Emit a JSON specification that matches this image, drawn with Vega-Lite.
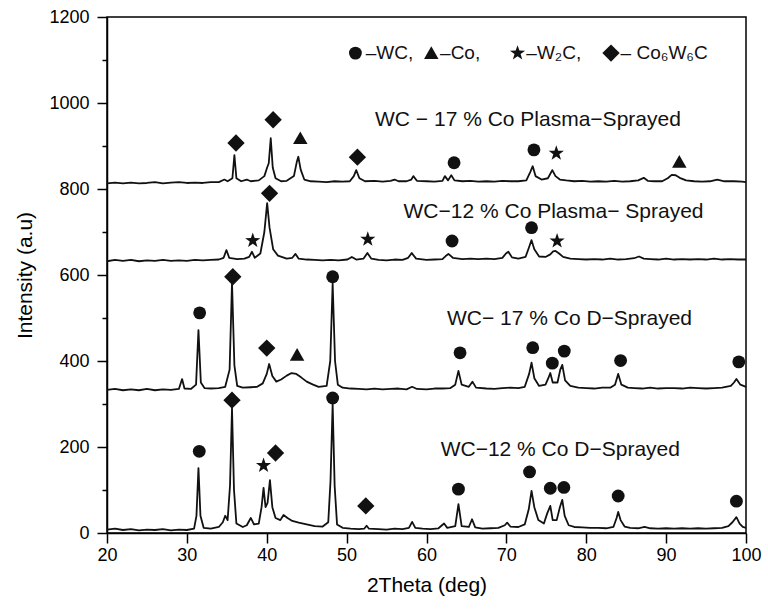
{
  "$schema": "https://vega.github.io/schema/vega-lite/v6.json",
  "width": 639,
  "height": 516,
  "autosize": {"type": "none"},
  "padding": {"left": 107, "top": 17, "right": 22, "bottom": 76},
  "config": {"view": {"stroke": "#000", "strokeWidth": 1.5}, "font": "Liberation Sans"},
  "datasets": {
    "lines": [
      {"s":"a","x":20,"y":8},{"s":"a","x":21,"y":10},{"s":"a","x":22,"y":7},{"s":"a","x":23,"y":9},{"s":"a","x":24,"y":6},{"s":"a","x":25,"y":8},{"s":"a","x":26,"y":7},{"s":"a","x":27,"y":9},{"s":"a","x":28,"y":6},{"s":"a","x":29,"y":8},{"s":"a","x":30,"y":7},{"s":"a","x":30.9,"y":10},{"s":"a","x":31.2,"y":40},{"s":"a","x":31.45,"y":151},{"s":"a","x":31.7,"y":40},{"s":"a","x":32.1,"y":12},{"s":"a","x":33,"y":10},{"s":"a","x":34,"y":14},{"s":"a","x":34.5,"y":25},{"s":"a","x":34.8,"y":40},{"s":"a","x":35.1,"y":30},{"s":"a","x":35.4,"y":110},{"s":"a","x":35.65,"y":290},{"s":"a","x":35.9,"y":100},{"s":"a","x":36.2,"y":22},{"s":"a","x":37,"y":14},{"s":"a","x":37.5,"y":18},{"s":"a","x":38,"y":35},{"s":"a","x":38.4,"y":20},{"s":"a","x":39,"y":22},{"s":"a","x":39.35,"y":60},{"s":"a","x":39.6,"y":105},{"s":"a","x":39.85,"y":60},{"s":"a","x":40.1,"y":70},{"s":"a","x":40.4,"y":123},{"s":"a","x":40.7,"y":60},{"s":"a","x":41.1,"y":35},{"s":"a","x":41.7,"y":30},{"s":"a","x":42.1,"y":42},{"s":"a","x":42.6,"y":35},{"s":"a","x":43.2,"y":28},{"s":"a","x":44,"y":24},{"s":"a","x":45,"y":20},{"s":"a","x":46,"y":16},{"s":"a","x":47,"y":15},{"s":"a","x":47.7,"y":25},{"s":"a","x":47.98,"y":120},{"s":"a","x":48.25,"y":300},{"s":"a","x":48.5,"y":110},{"s":"a","x":48.8,"y":20},{"s":"a","x":49.5,"y":12},{"s":"a","x":50.5,"y":10},{"s":"a","x":51.5,"y":9},{"s":"a","x":52.2,"y":10},{"s":"a","x":52.5,"y":17},{"s":"a","x":52.8,"y":10},{"s":"a","x":54,"y":9},{"s":"a","x":55,"y":8},{"s":"a","x":56,"y":10},{"s":"a","x":57,"y":9},{"s":"a","x":57.8,"y":12},{"s":"a","x":58.2,"y":26},{"s":"a","x":58.6,"y":12},{"s":"a","x":59.5,"y":10},{"s":"a","x":60.5,"y":9},{"s":"a","x":61.5,"y":11},{"s":"a","x":62.2,"y":22},{"s":"a","x":62.6,"y":12},{"s":"a","x":63.6,"y":16},{"s":"a","x":64.0,"y":67},{"s":"a","x":64.4,"y":16},{"s":"a","x":65.3,"y":14},{"s":"a","x":65.7,"y":32},{"s":"a","x":66.1,"y":13},{"s":"a","x":67,"y":10},{"s":"a","x":68,"y":11},{"s":"a","x":69,"y":12},{"s":"a","x":69.8,"y":18},{"s":"a","x":70.1,"y":24},{"s":"a","x":70.5,"y":15},{"s":"a","x":71.5,"y":14},{"s":"a","x":72.3,"y":20},{"s":"a","x":72.8,"y":55},{"s":"a","x":73.15,"y":98},{"s":"a","x":73.5,"y":60},{"s":"a","x":74,"y":30},{"s":"a","x":74.7,"y":22},{"s":"a","x":75.1,"y":45},{"s":"a","x":75.5,"y":63},{"s":"a","x":75.8,"y":30},{"s":"a","x":76.3,"y":30},{"s":"a","x":76.7,"y":60},{"s":"a","x":77.0,"y":77},{"s":"a","x":77.3,"y":40},{"s":"a","x":77.8,"y":18},{"s":"a","x":78.5,"y":14},{"s":"a","x":79.5,"y":13},{"s":"a","x":80.5,"y":12},{"s":"a","x":81.5,"y":12},{"s":"a","x":82.5,"y":11},{"s":"a","x":83.4,"y":14},{"s":"a","x":83.8,"y":35},{"s":"a","x":84.0,"y":49},{"s":"a","x":84.3,"y":30},{"s":"a","x":84.8,"y":15},{"s":"a","x":85.5,"y":12},{"s":"a","x":86.5,"y":11},{"s":"a","x":87.3,"y":14},{"s":"a","x":88,"y":11},{"s":"a","x":89,"y":10},{"s":"a","x":90,"y":11},{"s":"a","x":91,"y":10},{"s":"a","x":92,"y":11},{"s":"a","x":93,"y":10},{"s":"a","x":94,"y":11},{"s":"a","x":95,"y":10},{"s":"a","x":96,"y":11},{"s":"a","x":97,"y":12},{"s":"a","x":97.8,"y":16},{"s":"a","x":98.3,"y":25},{"s":"a","x":98.8,"y":37},{"s":"a","x":99.2,"y":22},{"s":"a","x":99.6,"y":14},{"s":"a","x":100,"y":12},

      {"s":"b","x":20,"y":333},{"s":"b","x":21,"y":335},{"s":"b","x":22,"y":332},{"s":"b","x":23,"y":334},{"s":"b","x":24,"y":332},{"s":"b","x":25,"y":335},{"s":"b","x":26,"y":332},{"s":"b","x":27,"y":334},{"s":"b","x":28,"y":333},{"s":"b","x":29,"y":335},{"s":"b","x":29.4,"y":358},{"s":"b","x":29.7,"y":336},{"s":"b","x":30.5,"y":335},{"s":"b","x":31.15,"y":345},{"s":"b","x":31.45,"y":472},{"s":"b","x":31.75,"y":350},{"s":"b","x":32.2,"y":337},{"s":"b","x":33,"y":336},{"s":"b","x":34,"y":337},{"s":"b","x":34.8,"y":340},{"s":"b","x":35.35,"y":380},{"s":"b","x":35.65,"y":582},{"s":"b","x":35.95,"y":390},{"s":"b","x":36.3,"y":342},{"s":"b","x":37,"y":338},{"s":"b","x":38,"y":339},{"s":"b","x":38.8,"y":340},{"s":"b","x":39.5,"y":348},{"s":"b","x":40.0,"y":370},{"s":"b","x":40.3,"y":393},{"s":"b","x":40.7,"y":365},{"s":"b","x":41.2,"y":352},{"s":"b","x":41.8,"y":357},{"s":"b","x":42.5,"y":366},{"s":"b","x":43.1,"y":372},{"s":"b","x":43.7,"y":370},{"s":"b","x":44.3,"y":362},{"s":"b","x":45,"y":352},{"s":"b","x":45.8,"y":345},{"s":"b","x":46.5,"y":340},{"s":"b","x":47.5,"y":342},{"s":"b","x":47.95,"y":400},{"s":"b","x":48.25,"y":581},{"s":"b","x":48.55,"y":400},{"s":"b","x":48.9,"y":345},{"s":"b","x":49.5,"y":338},{"s":"b","x":50.5,"y":336},{"s":"b","x":51.5,"y":335},{"s":"b","x":52.5,"y":334},{"s":"b","x":53.5,"y":336},{"s":"b","x":54.5,"y":334},{"s":"b","x":55.5,"y":335},{"s":"b","x":56.5,"y":336},{"s":"b","x":57.5,"y":334},{"s":"b","x":58.2,"y":340},{"s":"b","x":58.8,"y":335},{"s":"b","x":60,"y":334},{"s":"b","x":61,"y":336},{"s":"b","x":62,"y":336},{"s":"b","x":63,"y":337},{"s":"b","x":63.6,"y":345},{"s":"b","x":64.0,"y":377},{"s":"b","x":64.4,"y":345},{"s":"b","x":65.3,"y":340},{"s":"b","x":65.75,"y":352},{"s":"b","x":66.2,"y":338},{"s":"b","x":67.5,"y":336},{"s":"b","x":68.5,"y":335},{"s":"b","x":69.5,"y":337},{"s":"b","x":70.5,"y":338},{"s":"b","x":71.5,"y":337},{"s":"b","x":72.3,"y":340},{"s":"b","x":72.85,"y":370},{"s":"b","x":73.15,"y":396},{"s":"b","x":73.5,"y":360},{"s":"b","x":74.1,"y":342},{"s":"b","x":74.9,"y":345},{"s":"b","x":75.25,"y":360},{"s":"b","x":75.5,"y":372},{"s":"b","x":75.8,"y":350},{"s":"b","x":76.4,"y":350},{"s":"b","x":76.75,"y":380},{"s":"b","x":77.0,"y":391},{"s":"b","x":77.35,"y":355},{"s":"b","x":78,"y":342},{"s":"b","x":79,"y":338},{"s":"b","x":80,"y":337},{"s":"b","x":81,"y":336},{"s":"b","x":82,"y":338},{"s":"b","x":83,"y":338},{"s":"b","x":83.6,"y":345},{"s":"b","x":84.0,"y":370},{"s":"b","x":84.4,"y":345},{"s":"b","x":85.2,"y":338},{"s":"b","x":86,"y":337},{"s":"b","x":87,"y":336},{"s":"b","x":88,"y":338},{"s":"b","x":89,"y":336},{"s":"b","x":90,"y":337},{"s":"b","x":91,"y":337},{"s":"b","x":92,"y":336},{"s":"b","x":93,"y":338},{"s":"b","x":94,"y":337},{"s":"b","x":95,"y":336},{"s":"b","x":96,"y":337},{"s":"b","x":97,"y":338},{"s":"b","x":98.1,"y":342},{"s":"b","x":98.5,"y":350},{"s":"b","x":98.8,"y":358},{"s":"b","x":99.3,"y":345},{"s":"b","x":100,"y":340},

      {"s":"c","x":20,"y":632},{"s":"c","x":21,"y":635},{"s":"c","x":22,"y":633},{"s":"c","x":23,"y":635},{"s":"c","x":24,"y":632},{"s":"c","x":25,"y":634},{"s":"c","x":26,"y":633},{"s":"c","x":27,"y":635},{"s":"c","x":28,"y":633},{"s":"c","x":29,"y":634},{"s":"c","x":30,"y":633},{"s":"c","x":31,"y":635},{"s":"c","x":32,"y":634},{"s":"c","x":33,"y":635},{"s":"c","x":34,"y":636},{"s":"c","x":34.6,"y":640},{"s":"c","x":34.95,"y":658},{"s":"c","x":35.3,"y":640},{"s":"c","x":36.3,"y":637},{"s":"c","x":37.2,"y":638},{"s":"c","x":37.8,"y":642},{"s":"c","x":38.15,"y":654},{"s":"c","x":38.5,"y":640},{"s":"c","x":39.2,"y":650},{"s":"c","x":39.7,"y":700},{"s":"c","x":40.05,"y":767},{"s":"c","x":40.35,"y":710},{"s":"c","x":40.8,"y":660},{"s":"c","x":41.4,"y":645},{"s":"c","x":42.5,"y":638},{"s":"c","x":43.2,"y":640},{"s":"c","x":43.6,"y":649},{"s":"c","x":44,"y":638},{"s":"c","x":45,"y":636},{"s":"c","x":46,"y":635},{"s":"c","x":47,"y":634},{"s":"c","x":48,"y":635},{"s":"c","x":49,"y":634},{"s":"c","x":50.1,"y":636},{"s":"c","x":50.65,"y":642},{"s":"c","x":51.2,"y":636},{"s":"c","x":52.1,"y":638},{"s":"c","x":52.6,"y":651},{"s":"c","x":53.1,"y":638},{"s":"c","x":54,"y":635},{"s":"c","x":55,"y":634},{"s":"c","x":56,"y":636},{"s":"c","x":57,"y":635},{"s":"c","x":57.7,"y":640},{"s":"c","x":58.15,"y":651},{"s":"c","x":58.7,"y":638},{"s":"c","x":60,"y":635},{"s":"c","x":61,"y":636},{"s":"c","x":62,"y":637},{"s":"c","x":62.4,"y":644},{"s":"c","x":62.75,"y":649},{"s":"c","x":63.3,"y":640},{"s":"c","x":64.5,"y":637},{"s":"c","x":65.5,"y":638},{"s":"c","x":66.5,"y":637},{"s":"c","x":67.5,"y":638},{"s":"c","x":68.5,"y":637},{"s":"c","x":69.5,"y":640},{"s":"c","x":69.95,"y":650},{"s":"c","x":70.25,"y":654},{"s":"c","x":70.7,"y":641},{"s":"c","x":71.5,"y":638},{"s":"c","x":72.4,"y":642},{"s":"c","x":72.85,"y":665},{"s":"c","x":73.15,"y":681},{"s":"c","x":73.5,"y":660},{"s":"c","x":74.1,"y":643},{"s":"c","x":74.9,"y":642},{"s":"c","x":75.5,"y":648},{"s":"c","x":75.85,"y":655},{"s":"c","x":76.15,"y":656},{"s":"c","x":76.6,"y":650},{"s":"c","x":77.1,"y":642},{"s":"c","x":78,"y":638},{"s":"c","x":79,"y":637},{"s":"c","x":80,"y":636},{"s":"c","x":81,"y":637},{"s":"c","x":82,"y":636},{"s":"c","x":83,"y":638},{"s":"c","x":84,"y":636},{"s":"c","x":85,"y":637},{"s":"c","x":86,"y":639},{"s":"c","x":86.6,"y":643},{"s":"c","x":87.2,"y":638},{"s":"c","x":88,"y":637},{"s":"c","x":89,"y":636},{"s":"c","x":90,"y":638},{"s":"c","x":91,"y":636},{"s":"c","x":92,"y":637},{"s":"c","x":93,"y":636},{"s":"c","x":94,"y":637},{"s":"c","x":95,"y":636},{"s":"c","x":96,"y":638},{"s":"c","x":97,"y":636},{"s":"c","x":98,"y":637},{"s":"c","x":99,"y":636},{"s":"c","x":100,"y":636},

      {"s":"d","x":20,"y":813},{"s":"d","x":21,"y":815},{"s":"d","x":22,"y":813},{"s":"d","x":23,"y":815},{"s":"d","x":24,"y":813},{"s":"d","x":25,"y":814},{"s":"d","x":26,"y":816},{"s":"d","x":27,"y":813},{"s":"d","x":28,"y":815},{"s":"d","x":29,"y":816},{"s":"d","x":30,"y":814},{"s":"d","x":31,"y":815},{"s":"d","x":32,"y":814},{"s":"d","x":33,"y":816},{"s":"d","x":34,"y":816},{"s":"d","x":34.7,"y":822},{"s":"d","x":35.1,"y":818},{"s":"d","x":35.7,"y":825},{"s":"d","x":35.95,"y":879},{"s":"d","x":36.2,"y":825},{"s":"d","x":36.8,"y":818},{"s":"d","x":37.5,"y":822},{"s":"d","x":38,"y":818},{"s":"d","x":39,"y":820},{"s":"d","x":39.7,"y":830},{"s":"d","x":40.05,"y":850},{"s":"d","x":40.25,"y":860},{"s":"d","x":40.5,"y":918},{"s":"d","x":40.75,"y":850},{"s":"d","x":41.1,"y":825},{"s":"d","x":41.8,"y":818},{"s":"d","x":42.5,"y":819},{"s":"d","x":43.4,"y":830},{"s":"d","x":43.75,"y":862},{"s":"d","x":43.95,"y":875},{"s":"d","x":44.25,"y":845},{"s":"d","x":44.7,"y":822},{"s":"d","x":45.5,"y":818},{"s":"d","x":46.5,"y":817},{"s":"d","x":47.5,"y":816},{"s":"d","x":48.5,"y":818},{"s":"d","x":49.5,"y":817},{"s":"d","x":50.4,"y":818},{"s":"d","x":50.9,"y":830},{"s":"d","x":51.2,"y":844},{"s":"d","x":51.6,"y":825},{"s":"d","x":52.3,"y":818},{"s":"d","x":53.5,"y":819},{"s":"d","x":54.5,"y":817},{"s":"d","x":55.5,"y":819},{"s":"d","x":56,"y":822},{"s":"d","x":56.5,"y":818},{"s":"d","x":57.5,"y":818},{"s":"d","x":58.1,"y":822},{"s":"d","x":58.35,"y":830},{"s":"d","x":58.8,"y":819},{"s":"d","x":60,"y":818},{"s":"d","x":61,"y":817},{"s":"d","x":62,"y":819},{"s":"d","x":62.3,"y":830},{"s":"d","x":62.7,"y":820},{"s":"d","x":63.1,"y":832},{"s":"d","x":63.5,"y":820},{"s":"d","x":64.5,"y":818},{"s":"d","x":65.5,"y":819},{"s":"d","x":66.5,"y":817},{"s":"d","x":67.5,"y":818},{"s":"d","x":68.5,"y":817},{"s":"d","x":69.5,"y":819},{"s":"d","x":70.5,"y":818},{"s":"d","x":71.5,"y":818},{"s":"d","x":72.5,"y":820},{"s":"d","x":73.0,"y":840},{"s":"d","x":73.3,"y":853},{"s":"d","x":73.65,"y":830},{"s":"d","x":74.4,"y":822},{"s":"d","x":75.2,"y":825},{"s":"d","x":75.75,"y":844},{"s":"d","x":76.15,"y":830},{"s":"d","x":76.7,"y":822},{"s":"d","x":77.5,"y":820},{"s":"d","x":78.5,"y":818},{"s":"d","x":79.5,"y":819},{"s":"d","x":80.5,"y":817},{"s":"d","x":81.5,"y":818},{"s":"d","x":82.5,"y":817},{"s":"d","x":83.5,"y":819},{"s":"d","x":84.5,"y":817},{"s":"d","x":85.5,"y":818},{"s":"d","x":86.5,"y":820},{"s":"d","x":87.2,"y":826},{"s":"d","x":87.7,"y":819},{"s":"d","x":88.5,"y":818},{"s":"d","x":89.5,"y":818},{"s":"d","x":90.2,"y":825},{"s":"d","x":90.7,"y":833},{"s":"d","x":91.2,"y":832},{"s":"d","x":91.7,"y":826},{"s":"d","x":92.5,"y":820},{"s":"d","x":93.5,"y":818},{"s":"d","x":94.5,"y":817},{"s":"d","x":95.5,"y":818},{"s":"d","x":96.4,"y":822},{"s":"d","x":97.3,"y":818},{"s":"d","x":98.5,"y":818},{"s":"d","x":99.5,"y":817},{"s":"d","x":100,"y":816}
    ],
    "marks": [
      {"x":31.55,"y":190,"p":"WC"},{"x":35.65,"y":309,"p":"Co6W6C"},{"x":39.6,"y":157,"p":"W2C"},{"x":41.1,"y":186,"p":"Co6W6C"},{"x":48.25,"y":314,"p":"WC"},{"x":52.4,"y":63,"p":"Co6W6C"},{"x":64.0,"y":102,"p":"WC"},{"x":72.9,"y":142,"p":"WC"},{"x":75.5,"y":104,"p":"WC"},{"x":77.2,"y":106,"p":"WC"},{"x":84.0,"y":86,"p":"WC"},{"x":98.8,"y":74,"p":"WC"},
      {"x":31.6,"y":512,"p":"WC"},{"x":35.75,"y":596,"p":"Co6W6C"},{"x":40.0,"y":430,"p":"Co6W6C"},{"x":43.8,"y":414,"p":"Co"},{"x":48.25,"y":596,"p":"WC"},{"x":64.2,"y":419,"p":"WC"},{"x":73.3,"y":431,"p":"WC"},{"x":75.75,"y":395,"p":"WC"},{"x":77.25,"y":423,"p":"WC"},{"x":84.3,"y":401,"p":"WC"},{"x":99.1,"y":398,"p":"WC"},
      {"x":38.25,"y":680,"p":"W2C"},{"x":40.35,"y":790,"p":"Co6W6C"},{"x":52.65,"y":683,"p":"W2C"},{"x":63.2,"y":679,"p":"WC"},{"x":73.15,"y":710,"p":"WC"},{"x":76.35,"y":679,"p":"W2C"},
      {"x":36.15,"y":907,"p":"Co6W6C"},{"x":40.8,"y":961,"p":"Co6W6C"},{"x":44.2,"y":918,"p":"Co"},{"x":51.35,"y":874,"p":"Co6W6C"},{"x":63.45,"y":861,"p":"WC"},{"x":73.45,"y":891,"p":"WC"},{"x":76.25,"y":883,"p":"W2C"},{"x":91.65,"y":863,"p":"Co"},
      {"x":51.1,"y":1116,"p":"WC"},{"x":60.6,"y":1116,"p":"Co"},{"x":71.4,"y":1116,"p":"W2C"},{"x":83.1,"y":1116,"p":"Co6W6C"}
    ],
    "labels": [
      {"x":72.7,"y":961,"t":"WC − 17 % Co Plasma−Sprayed"},
      {"x":75.9,"y":747,"t":"WC−12 % Co Plasma− Sprayed"},
      {"x":77.9,"y":497,"t":"WC− 17 % Co D−Sprayed"},
      {"x":76.75,"y":193,"t":"WC−12 % Co D−Sprayed"}
    ],
    "legend": [
      {"x":52.4,"y":1116,"t":"–WC,"},
      {"x":61.7,"y":1116,"t":"–Co,"},
      {"x":72.5,"y":1116,"t":"–W₂C,"},
      {"x":84.3,"y":1116,"t":"– Co₆W₆C"}
    ]
  },
  "layer": [
    {
      "data": {"name": "lines"},
      "mark": {"type": "line", "color": "#111", "strokeWidth": 1.8, "strokeJoin": "round"},
      "encoding": {
        "x": {"field": "x", "type": "quantitative",
          "scale": {"domain": [20, 100], "nice": false, "zero": false},
          "axis": {"values": [20,25,30,35,40,45,50,55,60,65,70,75,80,85,90,95,100], "format": "d",
            "labelExpr": "datum.value % 10 === 0 ? datum.label : ''",
            "tickSize": {"condition": {"test": "datum.value % 10 !== 0", "value": 5}, "value": 10},
            "title": "2Theta (deg)", "grid": false, "domainColor": "#000", "tickColor": "#000",
            "domainWidth": 1.5, "tickWidth": 1.5, "labelFontSize": 18, "titleFontSize": 21,
            "labelColor": "#000", "titleColor": "#000", "titleFontWeight": "normal",
            "labelPadding": 3, "titlePadding": 10, "labelFlush": false, "labelOverlap": false}},
        "y": {"field": "y", "type": "quantitative",
          "scale": {"domain": [0, 1200], "nice": false, "zero": false},
          "axis": {"values": [0,100,200,300,400,500,600,700,800,900,1000,1100,1200], "format": "d",
            "labelExpr": "datum.value % 200 === 0 ? datum.label : ''",
            "tickSize": {"condition": {"test": "datum.value % 200 !== 0", "value": 5}, "value": 10},
            "title": "Intensity (a.u)", "grid": false, "domainColor": "#000", "tickColor": "#000",
            "domainWidth": 1.5, "tickWidth": 1.5, "labelFontSize": 18, "titleFontSize": 21,
            "labelColor": "#000", "titleColor": "#000", "titleFontWeight": "normal",
            "labelPadding": 8, "titlePadding": 13, "labelFlush": false, "labelOverlap": false}},
        "detail": {"field": "s"}
      }
    },
    {
      "data": {"name": "marks"},
      "mark": {"type": "point", "filled": true, "opacity": 1, "color": "#111"},
      "encoding": {
        "x": {"field": "x", "type": "quantitative"},
        "y": {"field": "y", "type": "quantitative"},
        "shape": {"field": "p", "type": "nominal", "legend": null,
          "scale": {"domain": ["WC", "Co", "W2C", "Co6W6C"],
            "range": ["circle", "M0,-0.95L1,0.8L-1,0.8Z", "M0,-1L0.235,-0.324L0.951,-0.309L0.38,0.124L0.588,0.809L0,0.4L-0.588,0.809L-0.38,0.124L-0.951,-0.309L-0.235,-0.324Z", "diamond"]}},
        "size": {"field": "p", "type": "nominal", "legend": null,
          "scale": {"domain": ["WC", "Co", "W2C", "Co6W6C"], "range": [165, 300, 280, 340]}}
      }
    },
    {
      "data": {"name": "labels"},
      "mark": {"type": "text", "fontSize": 21, "align": "center", "baseline": "middle", "color": "#111"},
      "encoding": {
        "x": {"field": "x", "type": "quantitative"},
        "y": {"field": "y", "type": "quantitative"},
        "text": {"field": "t"}
      }
    },
    {
      "data": {"name": "legend"},
      "mark": {"type": "text", "fontSize": 19, "align": "left", "baseline": "middle", "color": "#111"},
      "encoding": {
        "x": {"field": "x", "type": "quantitative"},
        "y": {"field": "y", "type": "quantitative"},
        "text": {"field": "t"}
      }
    }
  ]
}
